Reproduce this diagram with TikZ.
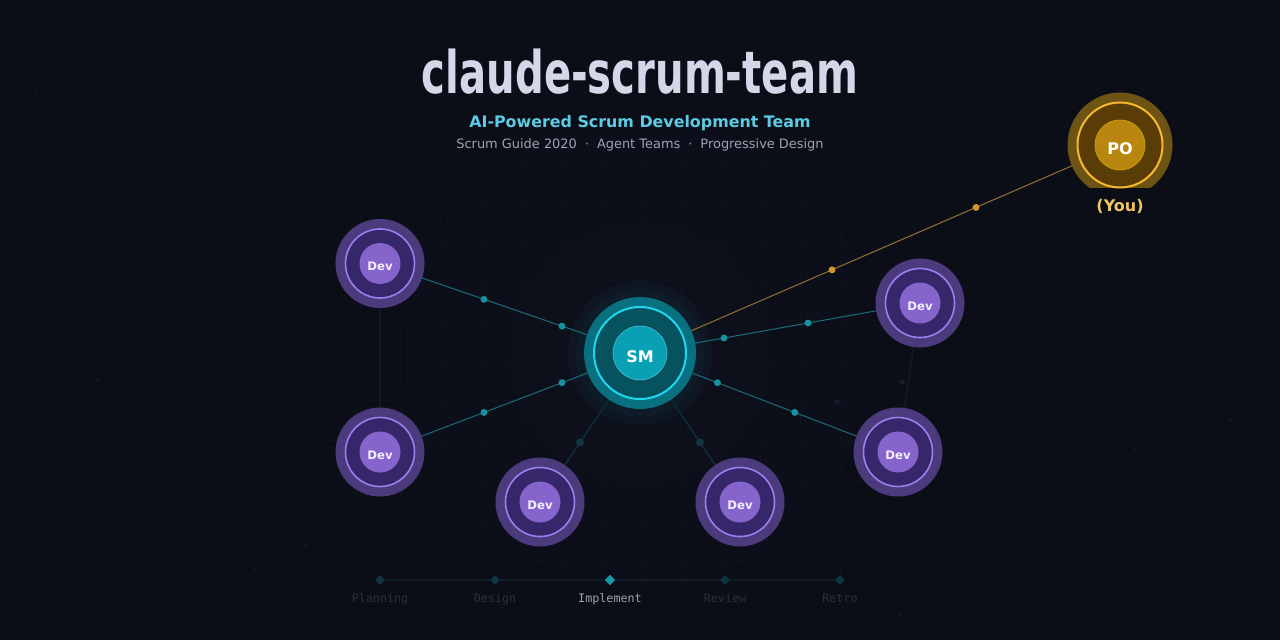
\documentclass[tikz,border=0pt]{standalone}
\usepackage{fontspec}
\setmainfont{DejaVu Sans}
\newfontfamily\monofont{DejaVu Sans Mono}
\usetikzlibrary{shapes.geometric,calc}
\pgfdeclarelayer{bg}
\pgfsetlayers{bg,main}
\definecolor{bgc}{HTML}{0B0E17}
\definecolor{gridc}{HTML}{0E121C}
\definecolor{titlec}{HTML}{D3D7E8}
\definecolor{subc}{HTML}{5CCBE3}
\definecolor{infoc}{HTML}{9AA3B5}
\definecolor{smout}{HTML}{08707E}
\definecolor{smmid}{HTML}{07525F}
\definecolor{smline}{HTML}{22D6EE}
\definecolor{smin}{HTML}{0AA0B4}
\definecolor{devout}{HTML}{4B3A7C}
\definecolor{devmid}{HTML}{35276A}
\definecolor{devline}{HTML}{9D7FF0}
\definecolor{devin}{HTML}{8565CC}
\definecolor{devtxt}{HTML}{F3EEFF}
\definecolor{poout}{HTML}{6E5414}
\definecolor{pomid}{HTML}{5A3C06}
\definecolor{poline}{HTML}{F5B82E}
\definecolor{poin}{HTML}{B9860F}
\definecolor{youc}{HTML}{F0C462}
\definecolor{tealln}{HTML}{1A6878}
\definecolor{tealdot}{HTML}{17909F}
\definecolor{faintln}{HTML}{0F2C35}
\definecolor{faintdot}{HTML}{0F3740}
\definecolor{goldln}{HTML}{8C6D35}
\definecolor{golddot}{HTML}{D4952C}
\definecolor{vfaint}{HTML}{141725}
\definecolor{stardot}{HTML}{181C2A}
\definecolor{tlline}{HTML}{101D25}
\definecolor{tldim}{HTML}{0F3640}
\definecolor{tlact}{HTML}{1A98A8}
\definecolor{tltxtdim}{HTML}{2A303C}
\definecolor{tltxtact}{HTML}{9CA3AF}
\tikzset{
  devouter/.style={circle, fill=devout, minimum size=66.75pt, inner sep=0pt, outer sep=0pt},
  devring/.style={circle, fill=devmid, draw=devline, line width=1.2pt, minimum size=51.75pt, inner sep=0pt},
  devinner/.style={circle, fill=devin, minimum size=30.75pt, inner sep=0pt},
  devtext/.style={text=devtxt, font=\fontsize{8.8pt}{10pt}\selectfont\bfseries, yshift=-2.2pt},
  smouter/.style={circle, fill=smout, minimum size=84pt, inner sep=0pt, outer sep=0pt},
  smring/.style={circle, fill=smmid, draw=smline, line width=1.5pt, minimum size=69pt, inner sep=0pt},
  sminner/.style={circle, fill=smin, draw=smin!80!white, line width=0.6pt, minimum size=40.5pt, inner sep=0pt},
  bigtext/.style={text=white, font=\fontsize{12pt}{13pt}\selectfont\bfseries, yshift=-2.8pt},
  poouter/.style={circle, fill=poout, minimum size=78.75pt, inner sep=0pt, outer sep=0pt},
  poring/.style={circle, fill=pomid, draw=poline, line width=1.5pt, minimum size=63.75pt, inner sep=0pt},
  poinner/.style={circle, fill=poin, draw=poin!80!yellow, line width=0.6pt, minimum size=37.5pt, inner sep=0pt},
  tealconn/.style={draw=tealln, line width=0.8pt},
  faintconn/.style={draw=faintln, line width=1.1pt},
  goldconn/.style={draw=goldln, line width=0.8pt},
  vfaintconn/.style={draw=vfaint, line width=1.2pt},
  tldiamond/.style={diamond, fill=tldim, minimum width=7.5pt, minimum height=7.5pt, inner sep=0pt},
  tlactive/.style={diamond, fill=tlact, minimum width=8pt, minimum height=8pt, inner sep=0pt},
  tllabel/.style={text=tltxtdim, font=\monofont\fontsize{8.8pt}{10pt}\selectfont},
  tlactlabel/.style={text=tltxtact, font=\monofont\fontsize{8.8pt}{10pt}\selectfont},
}
\begin{document}
\begin{tikzpicture}[x=0.75pt,y=-0.75pt]
\useasboundingbox (0,0) rectangle (1280,640);
\begin{pgfonlayer}{bg}
  \fill[bgc] (0,0) rectangle (1280,640);
  \fill[gridc!35!bgc] (640,353) circle (176pt);
  \fill[gridc!60!bgc] (640,353) circle (98pt);
  \foreach \x in {320,360,...,880} \draw[gridc, line width=0.5pt] (\x,160) -- (\x,580);
  \foreach \y in {160,200,...,580} \draw[gridc, line width=0.5pt] (320,\y) -- (880,\y);
  \foreach \p in {(35,90),(155,240),(228,120),(305,545),(255,570),(98,380),(1200,505),(1160,245),(1040,40),(980,560),(1230,420),(60,600),(470,60),(900,615),(1135,450),(760,40)}
    \fill[stardot] \p circle (1pt);
  \fill[smline, opacity=0.035] (640,353) circle (54pt);
  \fill[smline, opacity=0.035] (640,353) circle (48pt);
\end{pgfonlayer}

% title block
\node[anchor=base, text=titlec] (title) at (640,93)
  {\scalebox{0.685}[1]{\fontsize{44pt}{48pt}\selectfont\bfseries claude-scrum-team}};
\node[anchor=base, text=subc, font=\fontsize{11.9pt}{13pt}\selectfont\bfseries] (sub) at (640,127)
  {AI-Powered Scrum Development Team};
\node[anchor=base, text=infoc, font=\fontsize{9.7pt}{11pt}\selectfont] (info) at (640,148)
  {Scrum Guide 2020\hspace{6pt}·\hspace{6pt}Agent Teams\hspace{6pt}·\hspace{6pt}Progressive Design};

% Scrum Master
\node[smouter] (sm) at (640,353) {};
\node[smring] (smr) at (sm) {};
\node[sminner] (smi) at (sm) {};
\node[bigtext] (smt) at (sm) {SM};

% Developers
\foreach \n/\px/\py in {d1/380/263.5, d2/380/452, d3/540/502, d4/740/502, d5/920/303, d6/898/452}{
  \node[devouter] (\n) at (\px,\py) {};
  \node[devring] (\n r) at (\n) {};
  \node[devinner] (\n i) at (\n) {};
  \node[devtext] (\n t) at (\n) {Dev};
}

% Product Owner
\begin{scope}
  \clip (1000,0) rectangle (1250,187);
  \node[poouter] (po) at (1120,145) {};
\end{scope}
\node[poring] (por) at (po) {};
\node[poinner] (poi) at (po) {};
\node[bigtext] (pot) at (po) {PO};
\node[text=youc, font=\fontsize{12pt}{13pt}\selectfont\bfseries] (you) at (1120,206) {(You)};

% connectors
\begin{pgfonlayer}{bg}
  \draw[vfaintconn] (d1) -- (d2);
  \draw[vfaintconn] (d5) -- (d6);
  \fill[stardot] (902,382) circle (2.2pt);
  \fill[stardot] (837,402) circle (2pt);
  \foreach \d in {d1,d2,d5,d6}{
    \draw[tealconn] (sm) -- (\d);
    \fill[tealdot] ($(sm)!0.3!(\d)$) circle (2.6pt);
    \fill[tealdot] ($(sm)!0.6!(\d)$) circle (2.6pt);
  }
  \foreach \d in {d3,d4}{
    \draw[faintconn] (sm) -- (\d);
    \fill[faintdot] ($(sm)!0.6!(\d)$) circle (3pt);
  }
  \draw[goldconn] (sm) -- (po);
  \fill[golddot] ($(sm)!0.4!(po)$) circle (2.6pt);
  \fill[golddot] ($(sm)!0.7!(po)$) circle (2.6pt);
\end{pgfonlayer}

% sprint timeline
\node[tldiamond] (t1) at (380,580) {};
\node[tldiamond] (t2) at (495,580) {};
\node[tlactive] (t3) at (610,580) {};
\node[tldiamond] (t4) at (725,580) {};
\node[tldiamond] (t5) at (840,580) {};
\begin{pgfonlayer}{bg}
  \draw[tlline, line width=0.8pt] (t1) -- (t2);
  \draw[tlline, line width=0.8pt] (t2) -- (t3);
  \draw[tlline, line width=0.8pt] (t3) -- (t4);
  \draw[tlline, line width=0.8pt] (t4) -- (t5);
\end{pgfonlayer}
\node[tllabel, anchor=base] (l1) at (380,602) {Planning};
\node[tllabel, anchor=base] (l2) at (495,602) {Design};
\node[tlactlabel, anchor=base] (l3) at (610,602) {Implement};
\node[tllabel, anchor=base] (l4) at (725,602) {Review};
\node[tllabel, anchor=base] (l5) at (840,602) {Retro};
\end{tikzpicture}
\end{document}
